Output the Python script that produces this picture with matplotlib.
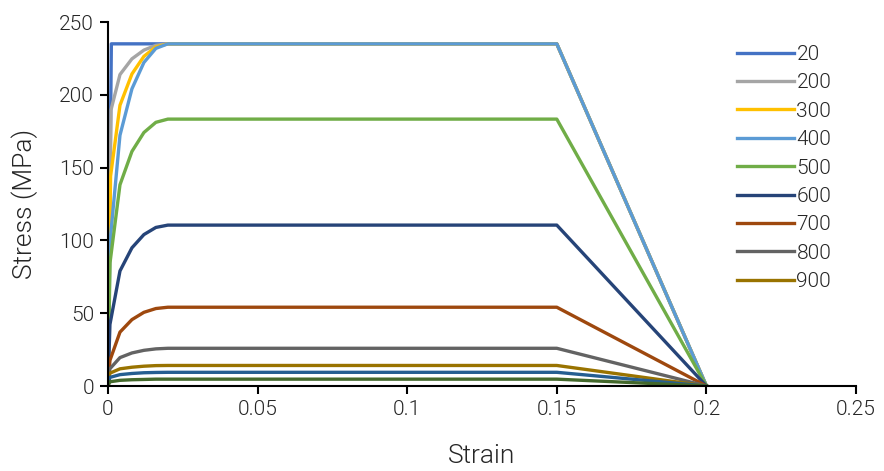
import matplotlib
matplotlib.use("Agg")
import matplotlib.pyplot as plt
from matplotlib.ticker import FixedLocator, FixedFormatter

plt.rcParams["font.family"] = ["Roboto", "DejaVu Sans"]
plt.rcParams["font.weight"] = 300

# temperature of each curve (deg C)
temps = [20, 200, 300, 400, 500, 600, 700, 800, 900, 1000, 1100]

# strain points shared by the curves after the proportional limit
strain_tail = [0.004, 0.008, 0.012, 0.016, 0.02, 0.15, 0.2]

# strain at the proportional limit for each temperature
strain_p = [0.00112, 0.0010, 0.00086, 0.00067, 0.00067, 0.00065,
            0.00065, 0.00062, 0.00062, 0.00062, 0.00062]

# stress (MPa) at the proportional limit, then at each strain_tail point
stress_p = [235.0, 189.6, 144.1, 98.7, 84.6, 42.3, 17.6, 11.8, 8.8, 5.9, 2.9]
stress_tail = [
    [235.0, 235.0, 235.0, 235.0, 235.0, 235.0, 0.0],
    [213.9, 224.7, 230.7, 234.0, 235.0, 235.0, 0.0],
    [192.8, 214.3, 226.4, 232.9, 235.0, 235.0, 0.0],
    [172.2, 204.1, 222.2, 231.9, 235.0, 235.0, 0.0],
    [138.2, 161.1, 174.1, 181.1, 183.3, 183.3, 0.0],
    [79.0, 94.9, 104.0, 108.9, 110.5, 110.5, 0.0],
    [37.0, 45.6, 50.6, 53.2, 54.1, 54.1, 0.0],
    [19.5, 22.7, 24.5, 25.5, 25.9, 25.9, 0.0],
    [11.8, 12.9, 13.6, 14.0, 14.1, 14.1, 0.0],
    [7.8, 8.6, 9.1, 9.3, 9.4, 9.4, 0.0],
    [3.9, 4.3, 4.5, 4.7, 4.7, 4.7, 0.0],
]

colors = ["#4472C4", "#A5A5A5", "#FFC000", "#5B9BD5", "#70AD47", "#264478",
          "#9E480E", "#636363", "#997300", "#255E91", "#43682B"]

text_color = "#262626"

fig = plt.figure(figsize=(8.84, 4.71), dpi=100)
ax = fig.add_axes([108 / 884, 1 - 386 / 471, (856 - 108) / 884, (386 - 22) / 471])

# later temperatures are drawn over earlier ones
handles = []
for i, t in enumerate(temps):
    x = [0.0, strain_p[i]] + strain_tail
    y = [0.0, stress_p[i]] + stress_tail[i]
    (ln,) = ax.plot(x, y, color=colors[i], lw=2.4, solid_joinstyle="round",
                    zorder=2 + i)
    handles.append(ln)

ax.set_xlim(0, 0.25)
ax.set_ylim(0, 250)
xt = [0, 0.05, 0.1, 0.15, 0.2, 0.25]
ax.xaxis.set_major_locator(FixedLocator(xt))
ax.xaxis.set_major_formatter(FixedFormatter(["0", "0.05", "0.1", "0.15", "0.2", "0.25"]))
ax.set_yticks([0, 50, 100, 150, 200, 250])

for side in ["top", "right"]:
    ax.spines[side].set_visible(False)
for side in ["left", "bottom"]:
    ax.spines[side].set_linewidth(1.5)
    ax.spines[side].set_color("black")
    ax.spines[side].set_zorder(30)
ax.tick_params(direction="out", length=6, width=1.5, color="black",
               labelsize=15, labelcolor=text_color, pad=4)

ax.set_xlabel("Strain", fontsize=19, fontweight=300, color=text_color,
              labelpad=18)
ax.set_ylabel("Stress (MPa)", fontsize=19, fontweight=300, color=text_color,
              labelpad=15)

# the legend lists the first nine temperatures
leg = ax.legend(handles[:9], [str(t) for t in temps[:9]],
                loc="upper left", bbox_to_anchor=(737 / 884, 1 - 45 / 471),
                bbox_transform=fig.transFigure, frameon=False, fontsize=15,
                handlelength=2.75, handletextpad=0.1, labelspacing=0.45,
                borderpad=0, borderaxespad=0)
for txt in leg.get_texts():
    txt.set_color(text_color)

fig.savefig("out.png", dpi=100)
